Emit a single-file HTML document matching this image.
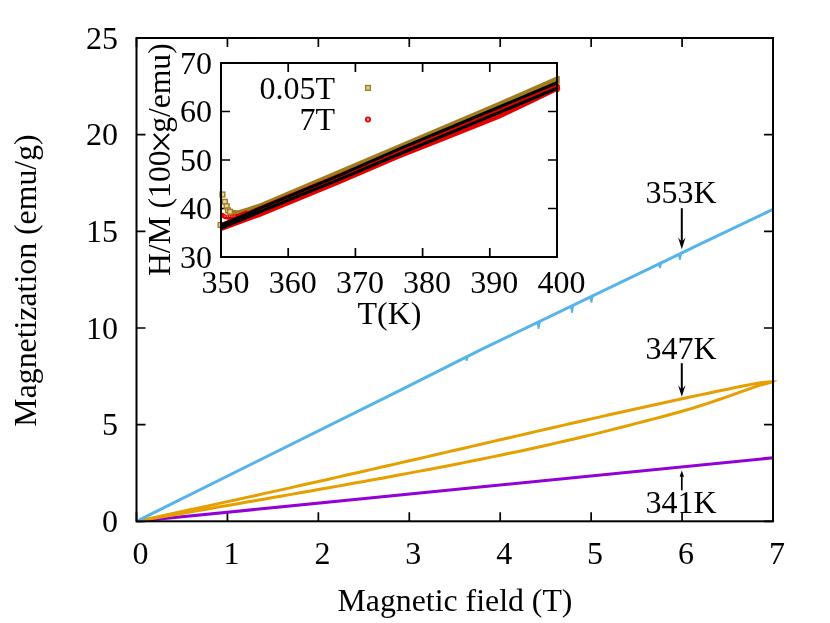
<!DOCTYPE html><html><head><meta charset="utf-8"><title>plot</title><style>html,body{margin:0;padding:0;background:#fff;overflow:hidden}svg{display:block;will-change:transform;opacity:.9999}text{font-family:"Liberation Serif",serif;font-size:32px;fill:#000}</style></head><body>
<svg width="830" height="623" viewBox="0 0 830 623">
<rect width="830" height="623" fill="#fff"/>
<path d="M136.50 521.30V512.30M136.50 38.00V47.00M227.43 521.30V512.30M227.43 38.00V47.00M318.36 521.30V512.30M318.36 38.00V47.00M409.29 521.30V512.30M409.29 38.00V47.00M500.21 521.30V512.30M500.21 38.00V47.00M591.14 521.30V512.30M591.14 38.00V47.00M682.07 521.30V512.30M682.07 38.00V47.00M773.00 521.30V512.30M773.00 38.00V47.00M136.50 521.30H145.50M773.00 521.30H764.00M136.50 424.64H145.50M773.00 424.64H764.00M136.50 327.98H145.50M773.00 327.98H764.00M136.50 231.32H145.50M773.00 231.32H764.00M136.50 134.66H145.50M773.00 134.66H764.00M136.50 38.00H145.50M773.00 38.00H764.00" stroke="#000" stroke-width="1.7" fill="none"/>
<text x="118" y="532.0" text-anchor="end">0</text>
<text x="118" y="435.3" text-anchor="end">5</text>
<text x="118" y="338.7" text-anchor="end">10</text>
<text x="118" y="242.0" text-anchor="end">15</text>
<text x="118" y="145.4" text-anchor="end">20</text>
<text x="118" y="48.7" text-anchor="end">25</text>
<text x="140.5" y="564" text-anchor="middle">0</text>
<text x="231.4" y="564" text-anchor="middle">1</text>
<text x="322.4" y="564" text-anchor="middle">2</text>
<text x="413.3" y="564" text-anchor="middle">3</text>
<text x="504.2" y="564" text-anchor="middle">4</text>
<text x="595.1" y="564" text-anchor="middle">5</text>
<text x="686.1" y="564" text-anchor="middle">6</text>
<text x="777.0" y="564" text-anchor="middle">7</text>
<text x="455" y="611.2" text-anchor="middle" style="font-size:31.8px">Magnetic field (T)</text>
<text transform="translate(35.5 280.5) rotate(-90)" text-anchor="middle" style="font-size:31.8px">Magnetization (emu/g)</text>
<path d="M136.50 521.30L773.00 457.80" stroke="#9400d3" stroke-width="3.05" fill="none"/>
<polyline points="136.50,521.30 145.59,519.36 154.69,517.41 163.78,515.45 172.87,513.50 181.96,511.54 191.06,509.57 200.15,507.60 209.24,505.62 218.34,503.64 227.43,501.65 236.52,499.66 245.61,497.66 254.71,495.66 263.80,493.65 272.89,491.63 281.99,489.61 291.08,487.59 300.17,485.55 309.26,483.52 318.36,481.47 327.45,479.43 336.54,477.37 345.64,475.32 354.73,473.25 363.82,471.19 372.91,469.11 382.01,467.04 391.10,464.96 400.19,462.87 409.29,460.79 418.38,458.69 427.47,456.60 436.56,454.51 445.66,452.41 454.75,450.31 463.84,448.21 472.94,446.10 482.03,444.00 491.12,441.90 500.21,439.80 509.31,437.69 518.40,435.59 527.49,433.50 536.59,431.40 545.68,429.31 554.77,427.22 563.86,425.14 572.96,423.06 582.05,420.98 591.14,418.91 600.24,416.85 609.33,414.80 618.42,412.76 627.51,410.72 636.61,408.69 645.70,406.68 654.79,404.68 663.89,402.69 672.98,400.71 682.07,398.74 691.16,396.79 700.26,394.86 709.35,392.94 718.44,391.04 727.54,389.16 736.63,387.30 745.72,385.46 754.81,383.65 762.09,382.50 768.45,381.92 773.00,381.72 759.36,385.40 745.72,390.12 736.63,393.40 727.54,396.63 718.44,399.79 709.35,402.84 700.26,405.78 691.16,408.58 682.07,411.25 672.98,413.80 663.89,416.26 654.79,418.67 645.70,421.04 636.61,423.40 627.51,425.73 618.42,428.05 609.33,430.35 600.24,432.61 591.14,434.84 582.05,437.03 572.96,439.19 563.86,441.31 554.77,443.39 545.68,445.44 536.59,447.46 527.49,449.45 518.40,451.41 509.31,453.34 500.21,455.24 491.12,457.12 482.03,458.98 472.94,460.81 463.84,462.62 454.75,464.41 445.66,466.18 436.56,467.94 427.47,469.68 418.38,471.40 409.29,473.11 400.19,474.80 391.10,476.48 382.01,478.15 372.91,479.81 363.82,481.46 354.73,483.10 345.64,484.73 336.54,486.36 327.45,487.97 318.36,489.59 309.26,491.19 300.17,492.79 291.08,494.39 281.99,495.99 272.89,497.58 263.80,499.16 254.71,500.75 245.61,502.33 236.52,503.92 227.43,505.50 218.34,507.08 209.24,508.66 200.15,510.24 191.06,511.82 181.96,513.40 172.87,514.98 163.78,516.56 154.69,518.14 145.59,519.72 136.50,521.30" stroke="#e69f00" stroke-width="3.0" fill="none" stroke-linejoin="round"/>
<polygon points="772,380.2 778,380.4 772,383.2" fill="#e69f00"/>
<polyline points="136.50,521.30 400.00,390.30 480.00,350.10 700.00,244.20 773.00,209.30" stroke="#56b4e9" stroke-width="3.05" fill="none" stroke-linejoin="round"/>
<polygon points="464.6,357.8 469.1,355.6 467.5,361.0 466.0,361.0" fill="#56b4e9"/>
<polygon points="536.5,322.9 541.0,320.7 539.4,329.1 537.9,329.1" fill="#56b4e9"/>
<polygon points="569.9,306.8 574.4,304.7 572.8,313.1 571.3,313.1" fill="#56b4e9"/>
<polygon points="589.4,297.4 593.9,295.3 592.3,302.7 590.8,302.7" fill="#56b4e9"/>
<polygon points="657.9,264.5 662.4,262.3 660.8,268.3 659.3,268.3" fill="#56b4e9"/>
<polygon points="677.8,254.9 682.3,252.7 680.7,259.9 679.2,259.9" fill="#56b4e9"/>
<rect x="136.50" y="38.00" width="636.50" height="483.30" fill="none" stroke="#000" stroke-width="2"/>
<text x="681" y="202.5" text-anchor="middle">353K</text>
<text x="681" y="358.5" text-anchor="middle">347K</text>
<text x="681" y="513" text-anchor="middle">341K</text>
<path d="M681.8 208.2V244.2" stroke="#000" stroke-width="2" fill="none"/>
<path d="M681.8 249.2L678.1 237.6Q680.2 240.4 681.8 241.6Q683.4 240.4 685.5 237.6Z" fill="#000"/>
<path d="M681.8 363.2V391.8" stroke="#000" stroke-width="2" fill="none"/>
<path d="M681.8 396.8L678.1 385.2Q680.2 388.0 681.8 389.2Q683.4 388.0 685.5 385.2Z" fill="#000"/>
<path d="M681.8 490.4V475" stroke="#000" stroke-width="1.7" fill="none"/>
<path d="M681.8 470.6L679.6 476.8L684 476.8Z" fill="#000"/>
<rect x="221.0" y="63.0" width="336.0" height="194.0" fill="#fff"/>
<path d="M221.00 257.00V248.00M221.00 63.00V72.00M288.20 257.00V248.00M288.20 63.00V72.00M355.40 257.00V248.00M355.40 63.00V72.00M422.60 257.00V248.00M422.60 63.00V72.00M489.80 257.00V248.00M489.80 63.00V72.00M557.00 257.00V248.00M557.00 63.00V72.00M221.00 257.00H230.00M557.00 257.00H548.00M221.00 208.50H230.00M557.00 208.50H548.00M221.00 160.00H230.00M557.00 160.00H548.00M221.00 111.50H230.00M557.00 111.50H548.00M221.00 63.00H230.00M557.00 63.00H548.00" stroke="#000" stroke-width="1.7" fill="none"/>
<text x="212" y="267.7" text-anchor="end">30</text>
<text x="212" y="219.2" text-anchor="end">40</text>
<text x="212" y="170.7" text-anchor="end">50</text>
<text x="212" y="122.2" text-anchor="end">60</text>
<text x="212" y="73.7" text-anchor="end">70</text>
<text x="225.5" y="293" text-anchor="middle">350</text>
<text x="292.7" y="293" text-anchor="middle">360</text>
<text x="359.9" y="293" text-anchor="middle">370</text>
<text x="427.1" y="293" text-anchor="middle">380</text>
<text x="494.3" y="293" text-anchor="middle">390</text>
<text x="561.5" y="293" text-anchor="middle">400</text>
<text x="389.5" y="324" text-anchor="middle">T(K)</text>
<text transform="translate(170.3 132.8) rotate(-90)" text-anchor="start" style="font-size:31.6px">g/emu)</text>
<text transform="translate(170.3 150.5) rotate(-90)" text-anchor="end" style="font-size:31.6px">H/M (100</text>
<path d="M153.7 134L169.1 149.5M169.1 134L153.7 149.5" stroke="#000" stroke-width="1.9" fill="none"/>
<text x="335" y="98.6" text-anchor="end">0.05T</text>
<text x="335" y="129.8" text-anchor="end">7T</text>
<rect x="365.65" y="85.55" width="4.7" height="4.7" fill="#e0d2a2" stroke="#a07d1e" stroke-width="1.4"/>
<circle cx="368" cy="119.5" r="2.2" fill="#f5a0a0" stroke="#e60000" stroke-width="1.7"/>
<polygon points="228.00,209.20 238.00,210.20 247.30,207.60 260.00,203.23 500.00,101.22 557.00,76.30 558.50,75.80 559.80,76.20 559.80,84.00 557.00,82.70 500.00,106.70 400.00,148.70 340.00,175.10 260.00,208.20 228.00,222.15" fill="#a07d1e"/>
<rect x="220.0" y="192.1" width="4.8" height="4.8" fill="#e3d6a8" stroke="#a07d1e" stroke-width="1.4"/>
<rect x="222.4" y="199.4" width="4.8" height="4.8" fill="#e3d6a8" stroke="#a07d1e" stroke-width="1.4"/>
<rect x="224.2" y="203.8" width="4.8" height="4.8" fill="#e3d6a8" stroke="#a07d1e" stroke-width="1.4"/>
<rect x="225.6" y="208.0" width="4.8" height="4.8" fill="#e3d6a8" stroke="#a07d1e" stroke-width="1.4"/>
<rect x="227.6" y="209.4" width="4.8" height="4.8" fill="#e3d6a8" stroke="#a07d1e" stroke-width="1.4"/>
<rect x="218.2" y="222.6" width="4.8" height="4.8" fill="#e3d6a8" stroke="#a07d1e" stroke-width="1.4"/>
<path d="M222.6 215.2Q225 217.8 231 217.4L237 216.6L246 212.8" stroke="#e60000" stroke-width="4.6" fill="none" stroke-linecap="round"/>
<path d="M224.5 216.2L236 216" stroke="#f7b0b0" stroke-width="1.2" fill="none" stroke-dasharray="1 1.3"/>
<polygon points="221.00,223.10 260.00,206.10 340.00,173.00 400.00,148.10 500.00,106.10 557.00,82.10 559.80,85.00 560.20,89.00 559.00,92.00 557.00,91.20 530.00,104.20 500.00,118.60 450.00,138.60 400.00,158.30 340.00,184.10 260.00,216.90 221.00,231.20" fill="#e60000"/>
<polyline points="221.00,225.20 260.00,208.20 340.00,175.10 400.00,148.70 500.00,106.70 557.00,82.70" stroke="#000" stroke-width="3.1" fill="none"/>
<polyline points="221.00,228.00 260.00,211.80 340.00,179.10 400.00,153.70 500.00,112.10 557.00,88.30" stroke="#000" stroke-width="3.1" fill="none"/>
<rect x="221.0" y="63.0" width="336.0" height="194.0" fill="none" stroke="#000" stroke-width="2"/>
</svg></body></html>
